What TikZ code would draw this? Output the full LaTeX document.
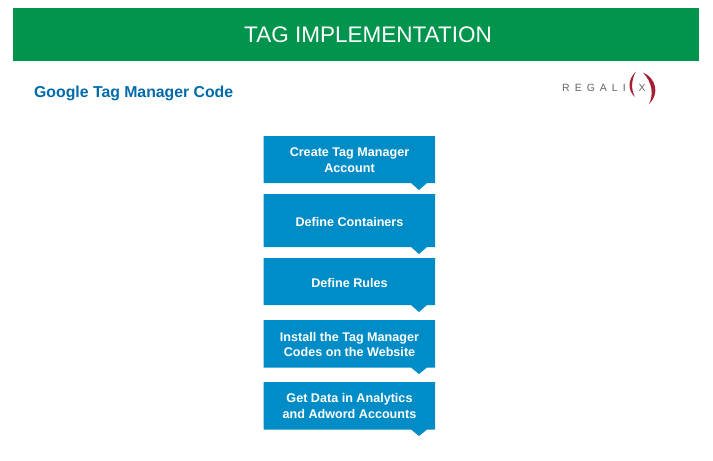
\documentclass[tikz,border=0pt]{standalone}
\usepackage{fontspec}
\setmainfont{Liberation Sans}
\definecolor{bannergreen}{RGB}{0,148,76}
\definecolor{boxblue}{RGB}{0,140,198}
\definecolor{headblue}{RGB}{0,107,170}
\definecolor{logored}{RGB}{165,30,50}
\definecolor{logogray}{RGB}{100,100,100}
\tikzset{
  boxtext/.style={text=white,font=\fontsize{12.6}{15.5}\selectfont\bfseries,align=center,inner sep=0pt},
  boxfill/.style={fill=boxblue,draw=none},
  logotext/.style={text=logogray,font=\fontsize{10.5}{12}\selectfont,inner sep=0pt}
}
\newcommand{\stepshape}[3]{%
  \path[boxfill] (263.5,#1) -- (435,#1) -- (435,#2) -- (427,#2) -- (419,#3) -- (411,#2) -- (263.5,#2) -- cycle;}
\begin{document}
\begin{tikzpicture}[x=1pt,y=-1pt]
\useasboundingbox (0,0) rectangle (713,461);
\path[fill=white] (0,0) rectangle (713,461);
\path[fill=bannergreen] (13,8) rectangle (699,61);
\node[text=white,font=\fontsize{22.5}{28}\selectfont,inner sep=0pt] (title) at (368,34.5) {TAG IMPLEMENTATION};
\node[text=headblue,font=\fontsize{15.8}{20}\selectfont\bfseries,anchor=west,inner sep=0pt] (head) at (34,93) {Google Tag Manager Code};
% logo
\node[logotext,anchor=west] (logoa) at (562,88) {R\hspace{5pt}E\hspace{5pt}G\hspace{5pt}A\hspace{5pt}L\hspace{5pt}I};
\node[logotext,anchor=center] (logox) at (642,88) {X};
\path[fill=logored] (636,71.5) .. controls (627,80) and (628,91) .. (635,97) .. controls (631,90) and (631,80) .. (636,71.5) -- cycle;
\path[fill=logored] (643,72.5) .. controls (656,78) and (660,94) .. (649,104) .. controls (654,94) and (652,82) .. (643,72.5) -- cycle;
% steps
\stepshape{136}{183}{190}
\node[boxtext] (s1) at (349.5,160) {Create Tag Manager\\Account};
\stepshape{194}{247}{254}
\node[boxtext] (s2) at (349.5,221.5) {Define Containers};
\stepshape{258}{305}{312}
\node[boxtext] (s3) at (349.5,282.5) {Define Rules};
\stepshape{320}{367.5}{374}
\node[boxtext] (s4) at (349.5,344.5) {Install the Tag Manager\\Codes on the Website};
\stepshape{382}{429.5}{436}
\node[boxtext] (s5) at (349.5,406) {Get Data in Analytics\\and Adword Accounts};
\end{tikzpicture}
\end{document}
